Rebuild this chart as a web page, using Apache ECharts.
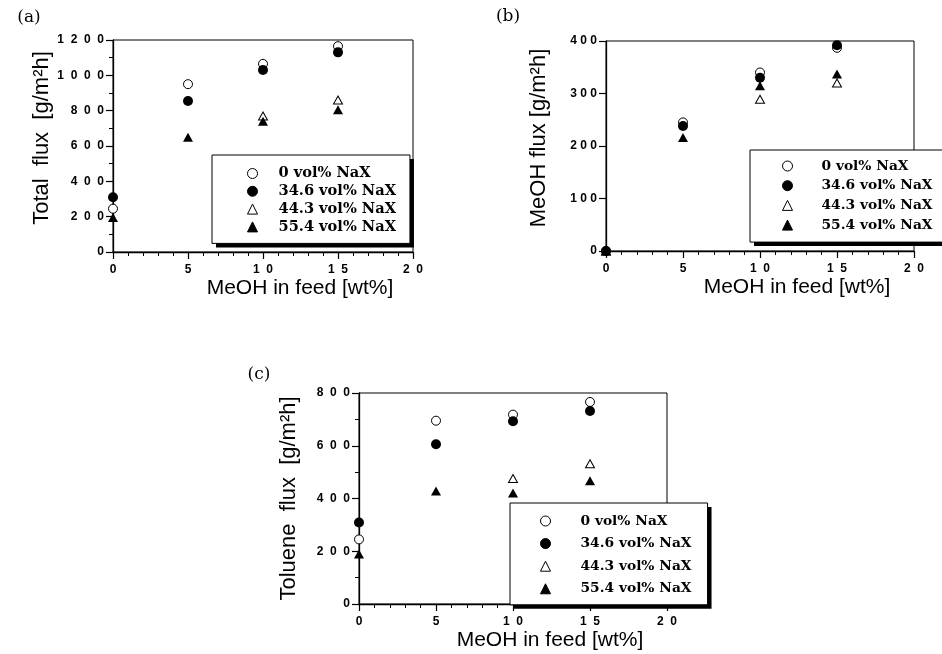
<!DOCTYPE html>
<html>
<head>
<meta charset="utf-8">
<title>Flux vs MeOH in feed</title>
<script src="https://cdn.jsdelivr.net/npm/echarts@6/dist/echarts.min.js"></script>
<style>
  html, body { margin: 0; padding: 0; background: #fff; }
  #chart { width: 942px; height: 654px; }
</style>
</head>
<body>
<div id="chart"></div>
<script>
// MeOH content of the feed [wt%]
const feed = [0, 5, 10, 15];
const xTicks = [0, 5, 10, 15, 20];
const seriesNames = ['0 vol% NaX', '34.6 vol% NaX', '44.3 vol% NaX', '55.4 vol% NaX'];

// (a) Total flux [g/m2h]
const total0 = [245, 950, 1065, 1165];
const total346 = [310, 855, 1030, 1130];
const total443 = [null, null, 770, 860];
const total554 = [195, 650, 740, 805];

// (b) MeOH flux [g/m2h]
const meoh0 = [0, 245, 340, 387];
const meoh346 = [0, 238, 330, 392];
const meoh443 = [0, null, 289, 320];
const meoh554 = [0, 216, 315, 337];

// (c) Toluene flux [g/m2h]
const tol0 = [245, 695, 718, 766];
const tol346 = [309, 606, 693, 732];
const tol443 = [null, null, 476, 532];
const tol554 = [190, 428, 421, 467];

// y axis ranges per panel: [max, major interval]
const yRangeA = [1200, 200];
const yRangeB = [400, 100];
const yRangeC = [800, 200];

const chart = echarts.init(document.getElementById('chart'), null, { renderer: 'canvas' });

const spaced = (v, gap) => String(v).split('').join(gap);

// marker looks: open circle, filled circle, open triangle, filled triangle
const markerStyles = [
  { symbol: 'circle', symbolSize: 9, itemStyle: { color: '#fff', borderColor: '#000', borderWidth: 1, opacity: 1 } },
  { symbol: 'circle', symbolSize: 10, itemStyle: { color: '#000', borderColor: '#000', borderWidth: 0, opacity: 1 } },
  { symbol: 'triangle', symbolSize: [9, 8], itemStyle: { color: '#fff', borderColor: '#000', borderWidth: 1, opacity: 1 } },
  { symbol: 'triangle', symbolSize: [10, 9], itemStyle: { color: '#000', borderColor: '#000', borderWidth: 0, opacity: 1 } }
];

function pairs(values) {
  const out = [];
  values.forEach((v, i) => { if (v !== null) out.push([feed[i], v]); });
  return out;
}

function panelSeries(gridIndex, lists) {
  return lists.map((vals, k) => Object.assign({
    type: 'scatter',
    name: seriesNames[k],
    xAxisIndex: gridIndex,
    yAxisIndex: gridIndex,
    data: pairs(vals),
    emphasis: { disabled: true },
    z: 3 + k
  }, JSON.parse(JSON.stringify(markerStyles[k]))));
}

const axisCommon = {
  axisLine: { show: true, onZero: false, lineStyle: { color: '#000', width: 1.3 } },
  axisTick: { show: true, inside: false, length: 7, lineStyle: { color: '#000', width: 1.2 } },
  splitLine: { show: false }
};

function xAxis(gridIndex) {
  return Object.assign({
    type: 'value',
    gridIndex: gridIndex,
    min: xTicks[0],
    max: xTicks[xTicks.length - 1],
    interval: xTicks[1] - xTicks[0],
    name: 'MeOH in feed [wt%]',
    nameLocation: 'middle',
    nameGap: 26,
    nameTextStyle: { fontFamily: 'Liberation Sans', fontSize: 21, color: '#000', padding: [0, 0, 0, 74] },
    minorTick: { show: true, splitNumber: 5, length: 4, lineStyle: { color: '#000', width: 1 } },
    axisLabel: {
      show: true, margin: 12, showMinLabel: true, showMaxLabel: true,
      fontFamily: 'Liberation Sans', fontWeight: 'bold', fontSize: 12, color: '#000',
      formatter: v => spaced(v, '  ')
    }
  }, JSON.parse(JSON.stringify(axisCommon)));
}

function yAxis(gridIndex, range, title, gap, shift, minorSplit, labelGap) {
  return Object.assign({
    type: 'value',
    gridIndex: gridIndex,
    min: 0,
    max: range[0],
    interval: range[1],
    name: title,
    nameLocation: 'middle',
    nameGap: gap,
    nameTextStyle: { fontFamily: 'Liberation Sans', fontSize: 22, color: '#000', padding: [0, 0, 0, shift] },
    minorTick: { show: minorSplit > 0, splitNumber: minorSplit || 1, length: 4, lineStyle: { color: '#000', width: 1 } },
    axisLabel: {
      show: true, margin: 9, showMinLabel: true, showMaxLabel: true,
      fontFamily: 'Liberation Sans', fontWeight: 'bold', fontSize: 12, color: '#000',
      formatter: v => spaced(v, labelGap)
    }
  }, JSON.parse(JSON.stringify(axisCommon)));
}

// A legend box; the same box drawn in black 4px lower-right gives the drop shadow.
// Symbols sit in a 10px square; textPad pushes the labels away from them.
function legend(left, top, padding, textPad, itemGap, fontSize, isShadow) {
  const off = isShadow ? 4 : 0;
  return {
    show: true,
    orient: 'vertical',
    left: left + off,
    top: top + off,
    padding: padding,
    itemWidth: 10,
    itemHeight: 10,
    itemGap: itemGap,
    selectedMode: false,
    data: seriesNames,
    backgroundColor: isShadow ? '#000' : '#fff',
    borderColor: '#000',
    borderWidth: isShadow ? 0 : 1,
    itemStyle: { borderWidth: 1 },
    textStyle: {
      fontFamily: 'DejaVu Serif', fontWeight: 'bold', fontSize: fontSize, lineHeight: 14,
      color: '#000', padding: [0, 0, 0, textPad]
    },
    z: isShadow ? 9 : 10
  };
}

const legendA = [212, 155, [11, 14, 9, 35], 16, 2.8, 14.6];
const legendB = [750, 150, [9, 80, 10, 32], 24, 5.7, 13.8];
const legendC = [510, 503, [11, 16, 9, 30], 25, 8.6, 13.8];

const gridStyle = { show: true, borderColor: '#000', borderWidth: 1, backgroundColor: 'transparent', containLabel: false, outerBoundsMode: 'none' };

const panelLabel = (text, x, y) => ({
  type: 'text', x: x, y: y,
  style: { text: text, font: '17px "DejaVu Serif"', fill: '#000', align: 'center', verticalAlign: 'middle' }
});

const option = {
  animation: false,
  backgroundColor: '#fff',
  grid: [
    Object.assign({ left: 113, top: 40, width: 300, height: 212 }, gridStyle),
    Object.assign({ left: 606, top: 41, width: 308, height: 210 }, gridStyle),
    Object.assign({ left: 359, top: 393, width: 308, height: 211 }, gridStyle)
  ],
  xAxis: [xAxis(0), xAxis(1), xAxis(2)],
  yAxis: [
    yAxis(0, yRangeA, 'Total  flux  [g/m²h]', 55, 16, 2, '  '),
    yAxis(1, yRangeB, 'MeOH flux [g/m²h]', 56, 16, 0, ' '),
    yAxis(2, yRangeC, 'Toluene  flux  [g/m²h]', 59, 0, 2, '  ')
  ],
  legend: [
    legend(...legendA, true), legend(...legendA, false),
    legend(...legendB, true), legend(...legendB, false),
    legend(...legendC, true), legend(...legendC, false)
  ],
  graphic: [
    panelLabel('(a)', 29, 18),
    panelLabel('(b)', 508, 17),
    panelLabel('(c)', 259, 375)
  ],
  series: [].concat(
    panelSeries(0, [total0, total346, total443, total554]),
    panelSeries(1, [meoh0, meoh346, meoh443, meoh554]),
    panelSeries(2, [tol0, tol346, tol443, tol554])
  )
};

chart.setOption(option);
</script>
</body>
</html>
